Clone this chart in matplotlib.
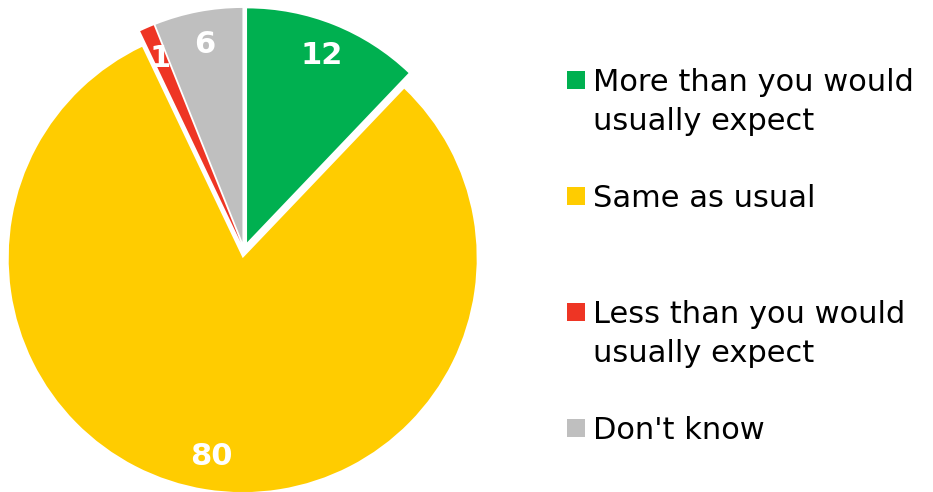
import numpy as np
import matplotlib
matplotlib.use("Agg")
import matplotlib.pyplot as plt
from matplotlib.patches import Rectangle

# data
categories = ["More than you would\nusually expect", "Same as usual",
              "Less than you would\nusually expect", "Don't know"]
values = [12, 80, 1, 6]
colors = ["#00B050", "#FFCC00", "#EE3524", "#BFBFBF"]
legend_y = [80, 196, 312, 428]  # pixel rows of legend entries (top-down)

W, H = 933, 492
fig = plt.figure(figsize=(W / 100, H / 100), dpi=100)

# pie axes: centre (244, 250) px, radius 234 px
r_px = 234
cx, cy = 244, H - 250
ax = fig.add_axes([(cx - r_px) / W, (cy - r_px) / H, 2 * r_px / W, 2 * r_px / H])

total = sum(values)
wedges, texts, autotexts = ax.pie(
    values, colors=colors, startangle=90, counterclock=False,
    explode=[0.035] * len(values),
    autopct=lambda p: f"{p * total / 100:.0f}", pctdistance=0.86,
    wedgeprops=dict(linewidth=0, clip_on=False),
    textprops=dict(color="white", fontsize=22, fontweight="bold"),
)
for w in wedges:
    w.set_clip_on(False)
ax.set_xlim(-1, 1)
ax.set_ylim(-1, 1)
ax.set_aspect("equal")
ax.axis("off")

# legend drawn by hand to match the spaced layout
for lab, col, yc in zip(categories, colors, legend_y):
    fig.patches.append(Rectangle((567 / W, (H - yc - 9) / H), 18 / W, 18 / H,
                                 transform=fig.transFigure, facecolor=col,
                                 edgecolor="none"))
    for i, line in enumerate(lab.split("\n")):
        base = yc + 11 + i * 39
        fig.text(593 / W, (H - base) / H, line, fontsize=22, color="black",
                 ha="left", va="baseline")

fig.savefig("out.png", dpi=100)
